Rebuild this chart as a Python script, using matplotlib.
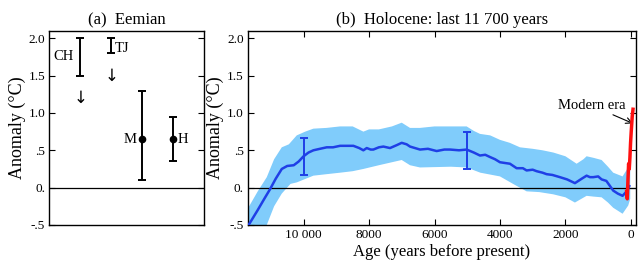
import matplotlib
matplotlib.use("Agg")
import matplotlib.pyplot as plt
import numpy as np

plt.rcParams['font.family'] = ['Liberation Serif', 'DejaVu Serif']

# ---- Panel (a) Eemian data ----
eem_labels = ["CH", "TJ", "M", "H"]
eem_pos = [1, 2, 3, 4]
eem_low = [1.5, 1.8, 0.1, 0.35]
eem_high = [2.0, 2.0, 1.3, 0.95]
eem_point = [None, None, 0.65, 0.65]
eem_arrow_y = [1.2, 1.5]

# ---- Panel (b) Holocene data ----
holo_age = [11800, 11650, 11400, 11200, 11023, 10850, 10666, 10500, 10300, 10150,
            10000, 9850, 9700, 9500, 9292, 9100, 8885, 8478, 8300, 8173,
            8070, 7950, 7868, 7700, 7562, 7359, 7150, 7002, 6850, 6748,
            6443, 6200, 5934, 5700, 5527, 5250, 5018, 4800, 4611, 4450,
            4305, 4150, 4000, 3850, 3695, 3491, 3300, 3186, 3000, 2880,
            2700, 2575, 2400, 2168, 1950, 1710, 1500, 1353, 1250, 1150,
            1000, 895, 750, 540, 400, 254, 150, 82, 50]
holo_val = [-0.58, -0.48, -0.30, -0.15, -0.02, 0.12, 0.25, 0.29, 0.30, 0.35,
            0.42, 0.47, 0.50, 0.52, 0.54, 0.54, 0.56, 0.56, 0.53, 0.50,
            0.53, 0.51, 0.51, 0.54, 0.55, 0.53, 0.57, 0.60, 0.58, 0.55,
            0.51, 0.52, 0.49, 0.51, 0.51, 0.50, 0.51, 0.47, 0.43, 0.44,
            0.41, 0.38, 0.34, 0.33, 0.32, 0.26, 0.26, 0.23, 0.24, 0.22,
            0.20, 0.18, 0.17, 0.14, 0.11, 0.06, 0.12, 0.16, 0.14, 0.14,
            0.15, 0.11, 0.09, -0.04, -0.08, -0.11, -0.06, -0.01, 0.02]

band_hi_age = [11800, 11650, 11400, 11124, 10900, 10666, 10450, 10208, 9950, 9700,
               9300, 8885, 8500, 8173, 8000, 7700, 7300, 7002, 6748, 6443,
               6000, 5500, 5018, 4800, 4611, 4300, 4000, 3700, 3390, 3000,
               2700, 2370, 2000, 1658, 1450, 1353, 1150, 895, 700, 540,
               254, 82, 20]
band_hi = [-0.35, -0.24, -0.05, 0.14, 0.38, 0.54, 0.58, 0.70, 0.75, 0.79,
           0.80, 0.82, 0.82, 0.75, 0.78, 0.78, 0.82, 0.87, 0.80, 0.80,
           0.82, 0.82, 0.82, 0.76, 0.72, 0.70, 0.64, 0.60, 0.54, 0.52,
           0.50, 0.47, 0.42, 0.32, 0.38, 0.42, 0.40, 0.37, 0.28, 0.20,
           0.15, 0.27, 0.35]
band_lo_age = [11800, 11124, 10900, 10666, 10400, 10208, 9700, 9300, 8885, 8500,
               8173, 7700, 7002, 6748, 6443, 5500, 5018, 4600, 4000, 3600,
               3186, 2800, 2370, 2000, 1710, 1353, 1150, 895, 700, 540,
               254, 82, 20]
band_lo = [-1.10, -0.50, -0.25, -0.08, 0.05, 0.07, 0.16, 0.18, 0.20, 0.22,
           0.25, 0.30, 0.37, 0.30, 0.27, 0.28, 0.27, 0.20, 0.15, 0.05,
           -0.05, -0.06, -0.09, -0.13, -0.20, -0.11, -0.12, -0.13, -0.20, -0.27,
           -0.35, -0.24, -0.15]

err_age = [10000, 5000]
err_low = [0.17, 0.25]
err_high = [0.67, 0.74]

modern_age = [130, 110, 90, 70, 50, 30, 10, -10, -40, -65]
modern_val = [-0.05, -0.15, 0.10, 0.32, 0.25, 0.40, 0.60, 0.75, 0.95, 1.05]

yticks = [-0.5, 0, 0.5, 1.0, 1.5, 2.0]
ytick_labels = ["-.5", "0.", ".5", "1.0", "1.5", "2.0"]
xticks_b = [10000, 8000, 6000, 4000, 2000, 0]
xtick_labels_b = ["10 000", "8000", "6000", "4000", "2000", "0"]

fig = plt.figure(figsize=(6.39, 2.64), dpi=100)
ax_a = fig.add_axes([0.077, 0.148, 0.243, 0.735])
ax_b = fig.add_axes([0.388, 0.148, 0.607, 0.735])

# ---- Panel (a) ----
for p, lo, hi, pt in zip(eem_pos, eem_low, eem_high, eem_point):
    mid = (lo + hi) / 2
    ax_a.errorbar([p], [mid], yerr=[[mid - lo], [hi - mid]], fmt='none',
                  ecolor='black', elinewidth=1.4, capsize=3, capthick=1.4)
    if pt is not None:
        ax_a.plot([p], [pt], 'o', color='black', markersize=4.5)
for p, y in zip(eem_pos[:2], eem_arrow_y):
    ax_a.text(p, y, "↓", ha='center', va='center', fontsize=12,
              family=['DejaVu Sans'])
ax_a.text(eem_pos[0] - 0.22, 1.76, eem_labels[0], ha='right', va='center', fontsize=10.5)
ax_a.text(eem_pos[1] + 0.12, 1.87, eem_labels[1], ha='left', va='center', fontsize=10.5)
ax_a.text(eem_pos[2] - 0.2, eem_point[2], eem_labels[2], ha='right', va='center', fontsize=10.5)
ax_a.text(eem_pos[3] + 0.15, eem_point[3], eem_labels[3], ha='left', va='center', fontsize=10.5)
ax_a.axhline(0, color='black', lw=0.9)
ax_a.set_xlim(0, 5)
ax_a.set_ylim(-0.5, 2.1)
ax_a.set_xticks([])
ax_a.set_yticks(yticks)
ax_a.set_yticklabels(ytick_labels)
ax_a.tick_params(axis='y', direction='in', right=True, length=4, labelsize=9.5, pad=3)
ax_a.set_ylabel("Anomaly (°C)", fontsize=13, labelpad=2)
ax_a.set_title("(a)  Eemian", fontsize=12, pad=5)

# ---- Panel (b) ----
poly_x = list(band_hi_age) + list(band_lo_age)[::-1]
poly_y = list(band_hi) + list(band_lo)[::-1]
ax_b.fill(poly_x, poly_y, color='#80ccfb', lw=0, zorder=1)
ax_b.plot(holo_age, holo_val, color='#1f3fe6', lw=1.8, zorder=3)
for a, lo, hi in zip(err_age, err_low, err_high):
    mid = (lo + hi) / 2
    ax_b.errorbar([a], [mid], yerr=[[mid - lo], [hi - mid]], fmt='none',
                  ecolor='#1f3fe6', elinewidth=1.4, capsize=3, capthick=1.4, zorder=4)
ax_b.plot(modern_age, modern_val, color='#ff1010', lw=2.5, zorder=5)
ax_b.axhline(0, color='black', lw=0.9, zorder=2)
ax_b.annotate("Modern era", xy=(-60, 0.86), xytext=(170, 1.1),
              ha='right', va='center', fontsize=10.5,
              arrowprops=dict(arrowstyle='->', color='black', lw=0.8,
                              shrinkA=0, shrinkB=0))
ax_b.set_xlim(11700, -150)
ax_b.set_ylim(-0.5, 2.1)
ax_b.set_xticks(xticks_b)
ax_b.set_xticklabels(xtick_labels_b)
ax_b.set_yticks(yticks)
ax_b.set_yticklabels(ytick_labels)
ax_b.tick_params(direction='in', top=True, right=True, length=4, labelsize=9.5, pad=3)
ax_b.set_ylabel("Anomaly (°C)", fontsize=13, labelpad=2)
ax_b.set_xlabel("Age (years before present)", fontsize=12, labelpad=2)
ax_b.set_title("(b)  Holocene: last 11 700 years", fontsize=12, pad=5)

for ax in (ax_a, ax_b):
    for s in ax.spines.values():
        s.set_linewidth(1.0)

fig.savefig("out.png", dpi=100)
